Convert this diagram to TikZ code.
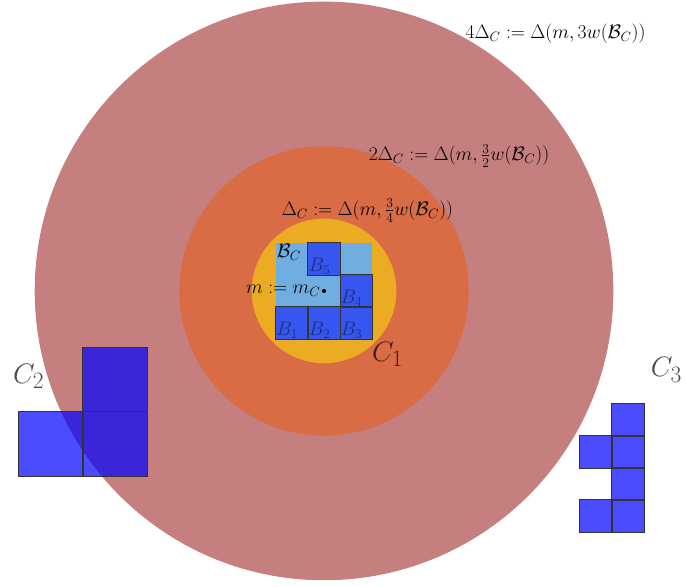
\documentclass[tikz,border=0pt]{standalone}
\usepackage{amsmath}
\usepackage{xcolor}
\usepackage{tikz}
\usetikzlibrary{positioning}
\definecolor{corFora}{RGB}{196, 127, 126}
\definecolor{corMeio}{RGB}{217, 108, 68}
\definecolor{corDentro}{RGB}{235, 171, 34}
\definecolor{corFundo}{RGB}{112, 174, 226}

\begin{document}
\begin{tikzpicture}[
    cell/.style={
        fill=blue, fill opacity=0.7,
        minimum size=1cm, inner sep=0pt
    },
    gridcell/.style={cell, fill opacity=0.5},
    bigcell/.style={cell, minimum size=2cm},
    cellline/.style={draw=black!80, line width=0.5pt},
    mlbl/.style={font=\fontsize{16.4}{20}\selectfont, inner sep=1pt},
    blbl/.style={mlbl, anchor=south west, inner sep=0.5pt, text opacity=0.45},
    clbl/.style={font=\fontsize{30}{34}\selectfont, text opacity=0.7}
]
\useasboundingbox (-10.08,-9.18) rectangle (11.26,9.05);

% discos
\fill[corFora] (0,0) circle (9);
\fill[corMeio] (0,0) circle (4.5);
\fill[corDentro] (0,0) circle (2.25);

% caixa B_C
\fill[corFundo] (-1.5,-1.5) rectangle (1.5,1.5);

\node[gridcell] (B1) at (-1,-1) {};
\node[gridcell] (B2) at (0,-1) {};
\node[gridcell] (B3) at (1,-1) {};
\node[gridcell] (B4) at (1,0) {};
\node[gridcell] (B5) at (0,1) {};

% C_2
\node[bigcell] (P1) at (-6.5,-2.75) {};
\node[bigcell] (P2) at (-8.5,-4.75) {};
\node[bigcell] (P3) at (-6.5,-4.75) {};

% C_3
\node[cell] (Q1) at (9.45,-4) {};
\node[cell] (Q2) at (9.45,-5) {};
\node[cell] (Q3) at (9.45,-6) {};
\node[cell] (Q4) at (9.45,-7) {};
\node[cell] (Q5) at (8.45,-5) {};
\node[cell] (Q6) at (8.45,-7) {};

% contornos
\foreach \c in {B1,B2,B3,B4,B5,P1,P2,P3,Q1,Q2,Q3,Q4,Q5,Q6}
    \draw[cellline] (\c.south west) rectangle (\c.north east);

\node[blbl] at (B1.south west) {$B_1$};
\node[blbl] at (B2.south west) {$B_2$};
\node[blbl] at (B3.south west) {$B_3$};
\node[blbl] at (B4.south west) {$B_4$};
\node[blbl] at (B5.south west) {$B_5$};

\node[mlbl, anchor=north west] (BC) at (-1.5,1.5) {$\mathcal{B}_C$};
\node[circle, fill=black, inner sep=1.3pt] (m) at (0,0) {};
\node[mlbl, left=0pt of m] {$m := m_C$};

\node[mlbl] (D1) at (1.35,2.5) {$\Delta_C := \Delta(m, \frac{3}{4}w(\mathcal{B}_C))$};
\node[mlbl] (D2) at (4.2,4.2) {$2\Delta_C := \Delta(m, \frac{3}{2}w(\mathcal{B}_C))$};
\node[mlbl] (D4) at (7.2,8.0) {$4\Delta_C := \Delta(m, 3w(\mathcal{B}_C))$};

\node[clbl] (C1) at (1.98,-1.98) {$C_1$};
\node[clbl] (C2) at (-9.19,-2.66) {$C_2$};
\node[clbl] (C3) at (10.65,-2.45) {$C_3$};

\end{tikzpicture}
\end{document}
